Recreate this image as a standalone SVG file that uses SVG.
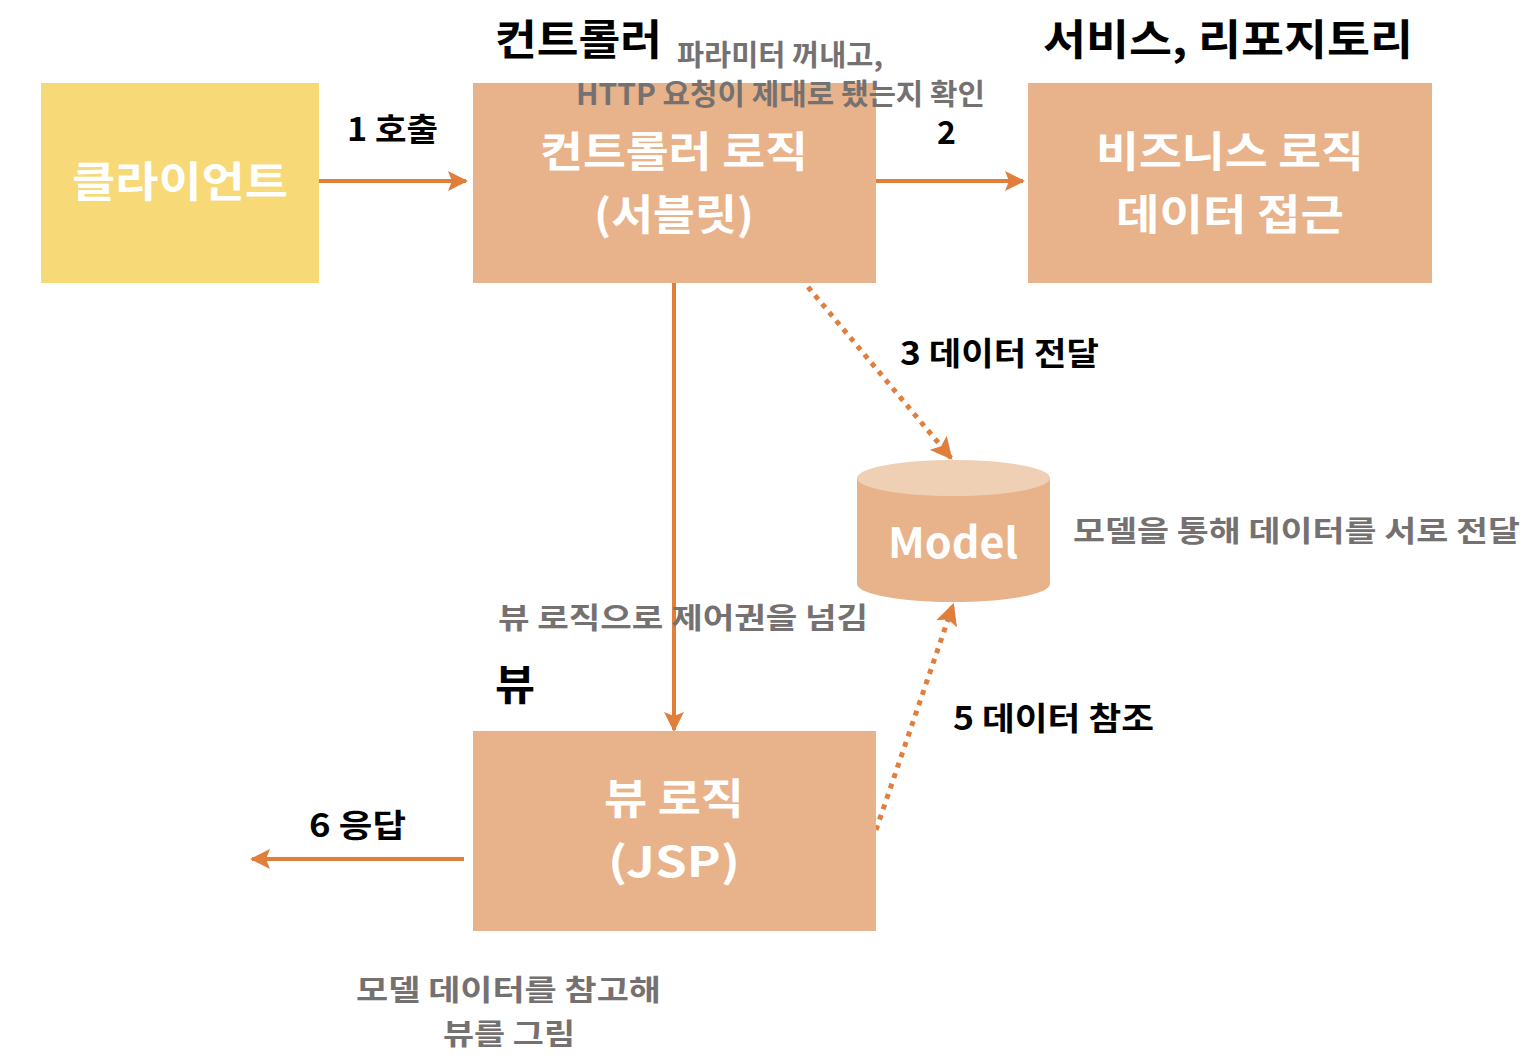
<svg xmlns="http://www.w3.org/2000/svg" width="1538" height="1064" viewBox="0 0 1538 1064">
<style>
text{font-family:"Noto Sans CJK KR","Noto Sans",sans-serif;font-weight:700}
.w{fill:#fff;font-size:42px;text-anchor:middle}
.b{fill:#000;font-size:32px}
.t{fill:#000;font-size:42px}
.g{fill:#767171;font-size:29px}
.box{fill:#E8B38A}
.ln{stroke:#E07E3C;stroke-width:4;fill:none}
.dot{stroke:#E07E3C;stroke-width:5;fill:none;stroke-dasharray:5 6}
</style>
<defs>
<marker id="ah" viewBox="0 0 10 10" refX="9" refY="5" markerWidth="5" markerHeight="5" orient="auto" markerUnits="strokeWidth">
<path d="M0,0 L10,5 L0,10 L2,5 Z" fill="#E07E3C"/>
</marker>
<marker id="ahs" viewBox="0 0 10 10" refX="9" refY="5" markerWidth="4.4" markerHeight="4.4" orient="auto" markerUnits="strokeWidth">
<path d="M0,0 L10,5 L0,10 L2,5 Z" fill="#E07E3C"/>
</marker>
</defs>
<g id="connectors">
<line class="ln" x1="319" y1="181" x2="466" y2="181" marker-end="url(#ah)"/>
<line class="ln" x1="876" y1="181" x2="1023" y2="181" marker-end="url(#ah)"/>
<line class="ln" x1="674" y1="283" x2="674" y2="730" marker-end="url(#ah)"/>
<line class="dot" x1="808" y1="287" x2="951" y2="458" marker-end="url(#ahs)"/>
<line class="dot" x1="876" y1="830" x2="953" y2="605" marker-end="url(#ahs)"/>
<line class="ln" x1="464" y1="859" x2="252" y2="859" marker-end="url(#ah)"/>
</g>
<g id="client">
<rect x="41" y="83" width="278" height="200" fill="#F8D978"/>
<text class="w" x="180" y="197" textLength="216" lengthAdjust="spacingAndGlyphs">클라이언트</text>
</g>
<g id="controller">
<rect class="box" x="473" y="83" width="403" height="200"/>
<text class="w" x="674" y="167" textLength="268" lengthAdjust="spacingAndGlyphs">컨트롤러 로직</text>
<text class="w" x="674" y="230" textLength="160" lengthAdjust="spacingAndGlyphs">(서블릿)</text>
</g>
<g id="service">
<rect class="box" x="1028" y="83" width="404" height="200"/>
<text class="w" x="1230" y="167" textLength="268" lengthAdjust="spacingAndGlyphs">비즈니스 로직</text>
<text class="w" x="1230" y="230" textLength="228" lengthAdjust="spacingAndGlyphs">데이터 접근</text>
</g>
<g id="view">
<rect class="box" x="473" y="731" width="403" height="200"/>
<text class="w" x="674" y="814" textLength="140" lengthAdjust="spacingAndGlyphs">뷰 로직</text>
<text class="w" x="674" y="877" textLength="132" lengthAdjust="spacingAndGlyphs">(JSP)</text>
</g>
<g id="model">
<path d="M857,478 L857,584 A96.5,18 0 0 0 1050,584 L1050,478 Z" fill="#E8B38A"/>
<ellipse cx="953.5" cy="478" rx="96.5" ry="18" fill="#F0D0B5"/>
<text class="w" x="953" y="558" textLength="130" lengthAdjust="spacingAndGlyphs">Model</text>
</g>
<g id="labels">
<text class="t" x="495" y="55" textLength="167" lengthAdjust="spacingAndGlyphs">컨트롤러</text>
<text class="t" x="1043" y="55" textLength="370" lengthAdjust="spacingAndGlyphs">서비스, 리포지토리</text>
<text class="g" x="677" y="66" font-size="26" textLength="206" lengthAdjust="spacingAndGlyphs">파라미터 꺼내고,</text>
<text class="g" x="576" y="105" textLength="409" lengthAdjust="spacingAndGlyphs">HTTP 요청이 제대로 됐는지 확인</text>
<text class="b" x="937" y="144">2</text>
<text class="b" x="347" y="141" textLength="91" lengthAdjust="spacingAndGlyphs">1 호출</text>
<text class="b" x="900" y="365" textLength="199" lengthAdjust="spacingAndGlyphs">3 데이터 전달</text>
<text class="g" x="1073" y="542" textLength="447" lengthAdjust="spacingAndGlyphs">모델을 통해 데이터를 서로 전달</text>
<text class="g" x="498" y="629" textLength="370" lengthAdjust="spacingAndGlyphs">뷰 로직으로 제어권을 넘김</text>
<text class="t" x="495" y="700" textLength="40" lengthAdjust="spacingAndGlyphs">뷰</text>
<text class="b" x="953" y="730" textLength="201" lengthAdjust="spacingAndGlyphs">5 데이터 참조</text>
<text class="b" x="309" y="837" textLength="97" lengthAdjust="spacingAndGlyphs">6 응답</text>
<text class="g" x="356" y="1001" textLength="305" lengthAdjust="spacingAndGlyphs">모델 데이터를 참고해</text>
<text class="g" x="443" y="1045" textLength="132" lengthAdjust="spacingAndGlyphs">뷰를 그림</text>
</g>
</svg>
